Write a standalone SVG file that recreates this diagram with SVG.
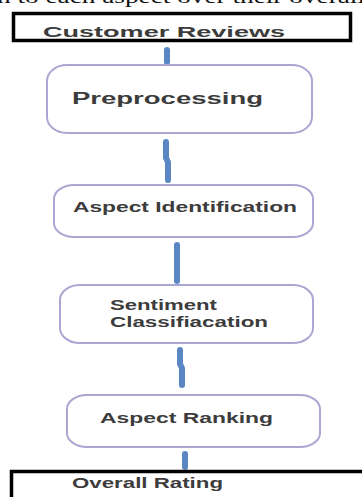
<svg xmlns="http://www.w3.org/2000/svg" width="362" height="497" viewBox="0 0 362 497">
<style>
.bg{fill:#ffffff}
.term{fill:#ffffff;stroke:#000000;stroke-width:3.5}
.proc{fill:#ffffff;stroke:#aba7d3;stroke-width:2}
.lbl{font-family:"Liberation Sans",Arial,sans-serif;font-weight:bold;fill:#3c3c3c}
.conn{fill:none;stroke:#5a86c4;stroke-width:6;stroke-linecap:round;stroke-linejoin:round}
.top{font-family:"Liberation Serif","Times New Roman",serif;fill:#111111}
</style>
<rect class="bg" x="0" y="0" width="362" height="497"/>
<text class="top" x="-3" y="3" font-size="19" textLength="368" lengthAdjust="spacingAndGlyphs">n to each aspect over their overall</text>
<g id="connectors">
<path class="conn" d="M167 50 L167 62"/>
<path class="conn" d="M166 142 L166 158 L168 162 L168 180"/>
<path class="conn" d="M177 245 L177 281"/>
<path class="conn" d="M180 350 L180 364 L182 368 L182 385"/>
<path class="conn" d="M185 454 L185 467"/>
</g>
<g id="customer-reviews">
<rect class="term" x="13.5" y="13.5" width="337" height="27"/>
<text class="lbl" x="43" y="37" font-size="15" textLength="242" lengthAdjust="spacingAndGlyphs">Customer Reviews</text>
</g>
<g id="preprocessing">
<rect class="proc" x="47" y="65" width="265" height="68" rx="20" ry="16"/>
<text class="lbl" x="72" y="104" font-size="16" textLength="191" lengthAdjust="spacingAndGlyphs">Preprocessing</text>
</g>
<g id="aspect-identification">
<rect class="proc" x="54" y="185" width="259" height="52" rx="20" ry="14"/>
<text class="lbl" x="73" y="212" font-size="15" textLength="224" lengthAdjust="spacingAndGlyphs">Aspect Identification</text>
</g>
<g id="sentiment-classification">
<rect class="proc" x="60" y="285" width="253" height="58" rx="20" ry="15"/>
<text class="lbl" x="110" y="310" font-size="14" textLength="107" lengthAdjust="spacingAndGlyphs">Sentiment</text>
<text class="lbl" x="110" y="327" font-size="14" textLength="158" lengthAdjust="spacingAndGlyphs">Classifiacation</text>
</g>
<g id="aspect-ranking">
<rect class="proc" x="67" y="395" width="253" height="52" rx="20" ry="14"/>
<text class="lbl" x="100" y="423" font-size="15" textLength="173" lengthAdjust="spacingAndGlyphs">Aspect Ranking</text>
</g>
<g id="overall-rating">
<rect class="term" x="11.5" y="471.5" width="360" height="40"/>
<text class="lbl" x="72" y="488" font-size="14" textLength="151" lengthAdjust="spacingAndGlyphs">Overall Rating</text>
</g>
</svg>
